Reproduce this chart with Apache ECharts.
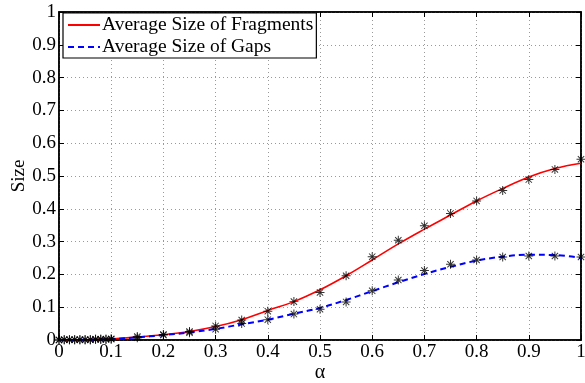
<!DOCTYPE html>
<html>
<head>
<meta charset="utf-8">
<script src="https://cdn.jsdelivr.net/npm/echarts@6/dist/echarts.min.js"></script>
<style>html,body{margin:0;padding:0;background:#fff}#c{width:585px;height:383px}</style>
</head>
<body>
<div id="c"></div>
<script>
// Curves (model)
const lineX = [0,0.05,0.1,0.15,0.2,0.25,0.3,0.35,0.4,0.45,0.5,0.55,0.6,0.65,0.7,0.75,0.8,0.85,0.9,0.95,1.0];
const fragLine = [0,0.0008,0.003,0.009,0.016,0.026,0.041,0.062,0.09,0.117,0.153,0.196,0.244,0.293,0.338,0.381,0.424,0.462,0.497,0.523,0.539];
const gapLine  = [0,0.0008,0.003,0.008,0.015,0.023,0.034,0.048,0.062,0.08,0.098,0.122,0.149,0.176,0.201,0.223,0.242,0.254,0.26,0.259,0.25];
// Simulation markers
const markX = [0,0.01,0.02,0.03,0.04,0.05,0.06,0.07,0.08,0.09,0.1,0.15,0.2,0.25,0.3,0.35,0.4,0.45,0.5,0.55,0.6,0.65,0.7,0.75,0.8,0.85,0.9,0.95,1.0];
const fragMark = [0,0.001,0.001,0.001,0.001,0.001,0.001,0.002,0.002,0.002,0.003,0.011,0.017,0.026,0.043,0.061,0.088,0.117,0.145,0.196,0.254,0.304,0.348,0.386,0.424,0.456,0.489,0.52,0.551];
const gapMark  = [0,0.001,0.001,0.001,0.001,0.001,0.001,0.002,0.002,0.002,0.003,0.007,0.015,0.022,0.033,0.05,0.062,0.079,0.094,0.116,0.15,0.183,0.212,0.231,0.244,0.253,0.256,0.256,0.253];
const xTicks = [0,0.1,0.2,0.3,0.4,0.5,0.6,0.7,0.8,0.9,1];
const yTicks = [0,0.1,0.2,0.3,0.4,0.5,0.6,0.7,0.8,0.9,1];
const names = ['Average Size of Fragments','Average Size of Gaps'];

const FONT = '"Liberation Serif","Times New Roman",serif';
const star = 'path://M-1.1,-10 L1.1,-10 L1.1,10 L-1.1,10 Z M-10,-1.1 L10,-1.1 L10,1.1 L-10,1.1 Z M-6.3,-7.8 L7.8,6.3 L6.3,7.8 L-7.8,-6.3 Z M6.3,-7.8 L7.8,-6.3 L-6.3,7.8 L-7.8,6.3 Z';

const zip = (xs, ys) => xs.map((x, i) => [x, ys[i]]);
const chart = echarts.init(document.getElementById('c'), null, {renderer: 'canvas'});
const axisCommon = {
  type: 'value', min: 0, max: 1, interval: 0.1,
  axisLine: {show: true, onZero: false, lineStyle: {color: '#000', width: 1.5}},
  axisTick: {show: true, inside: true, length: 5, lineStyle: {color: '#000', width: 1}},
};
const fmt = v => String(Math.round(v * 10) / 10);
chart.setOption({
  animation: false,
  backgroundColor: '#fff',
  grid: {left: 59, right: 4, top: 12, bottom: 43, show: true, borderColor: '#000', borderWidth: 1.5,
         backgroundColor: 'transparent', containLabel: false, outerBoundsMode: 'none'},
  legend: {
    data: names, orient: 'vertical', left: 63, top: 13,
    backgroundColor: '#fff', borderColor: '#000', borderWidth: 1.2, borderRadius: 0,
    padding: [2, 3, 1, 4], itemGap: 2, itemWidth: 32, itemHeight: 19,
    itemStyle: {opacity: 0},
    textStyle: {fontFamily: FONT, fontSize: 19.5, color: '#000', padding: [0,0,0,-3]}
  },
  xAxis: [
    Object.assign({}, axisCommon, {
      position: 'bottom', name: 'α', nameLocation: 'middle', nameGap: 23, nameMoveOverlap: false,
      nameTextStyle: {fontFamily: FONT, fontSize: 20, color: '#000'},
      axisLabel: {fontFamily: FONT, fontSize: 19, color: '#000', margin: 3, formatter: fmt, customValues: xTicks},
      splitLine: {show: true, lineStyle: {color: '#999', type: [1, 3], width: 1}}
    }),
    Object.assign({}, axisCommon, {position: 'top', axisLabel: {show: false}, splitLine: {show: false}})
  ],
  yAxis: [
    Object.assign({}, axisCommon, {
      position: 'left', name: 'Size', nameLocation: 'middle', nameGap: 30, nameMoveOverlap: false,
      nameTextStyle: {fontFamily: FONT, fontSize: 19, color: '#000'},
      axisLabel: {fontFamily: FONT, fontSize: 19, color: '#000', margin: 3, formatter: fmt, customValues: yTicks},
      splitLine: {show: true, lineStyle: {color: '#999', type: [1, 3], width: 1}}
    }),
    Object.assign({}, axisCommon, {position: 'right', axisLabel: {show: false}, splitLine: {show: false}})
  ],
  series: [
    {name: names[0], type: 'line', data: zip(lineX, fragLine), smooth: 0.4, showSymbol: false, symbol: 'none',
     lineStyle: {color: '#ff0000', width: 1.6}, itemStyle: {color: '#ff0000'}, z: 3},
    {name: names[1], type: 'line', data: zip(lineX, gapLine), smooth: 0.4, showSymbol: false, symbol: 'none',
     lineStyle: {color: '#0000ff', width: 2, type: [6, 4]}, itemStyle: {color: '#0000ff'}, z: 3},
    {name: 'fragSim', type: 'scatter', data: zip(markX, fragMark), symbol: star, symbolSize: 9,
     itemStyle: {color: '#000'}, z: 4},
    {name: 'gapSim', type: 'scatter', data: zip(markX, gapMark), symbol: star, symbolSize: 9,
     itemStyle: {color: '#000'}, z: 4}
  ]
});
</script>
</body>
</html>
